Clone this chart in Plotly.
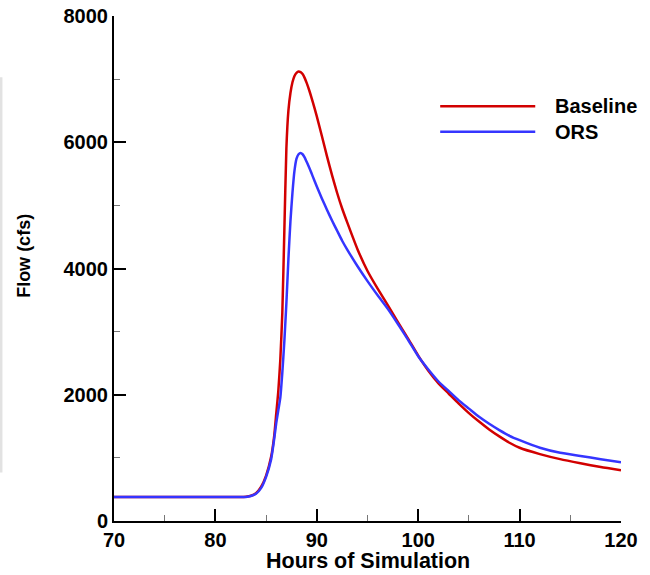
import plotly.graph_objects as go

# ---- data ----
hours_baseline = [70, 72, 75, 78, 81, 82.5, 83, 83.5, 84, 84.5, 85, 85.5, 85.8, 86.0, 86.2, 86.4, 86.6, 86.8,
                  87.0, 87.2, 87.4, 87.6, 87.8, 88.0, 88.2, 88.4, 88.6, 88.8, 89.0, 89.3, 89.6, 90.0, 90.5,
                  91.0, 91.5, 92.0, 92.5, 93.0, 94.0, 95.0, 96.0, 97.0, 98.0, 99.0, 100.0, 101.0, 102.0,
                  103.0, 104.0, 105.0, 106.0, 107.0, 108.0, 109.0, 110.0, 112.0, 114.0, 116.0, 118.0, 120.0]
flow_baseline = [380, 380, 380, 380, 380, 380, 385, 400, 440, 540, 720, 1020, 1350, 1700, 2050, 2550, 3300, 4600,
                 5900, 6500, 6780, 6950, 7050, 7100, 7120, 7110, 7080, 7020, 6940, 6800, 6640, 6410, 6100,
                 5780, 5480, 5200, 4950, 4730, 4310, 3960, 3680, 3420, 3150, 2890, 2620, 2380, 2180,
                 2020, 1860, 1710, 1575, 1450, 1340, 1240, 1160, 1060, 980, 915, 855, 805]

hours_ors = [70, 72, 75, 78, 81, 82.5, 83, 83.5, 84, 84.5, 85, 85.5, 85.8, 86.0, 86.2, 86.4, 86.6, 86.8,
             87.0, 87.2, 87.4, 87.6, 87.8, 88.0, 88.2, 88.4, 88.6, 88.8, 89.0, 89.3, 89.6, 90.0, 90.5,
             91.0, 91.5, 92.0, 92.5, 93.0, 94.0, 95.0, 96.0, 97.0, 98.0, 99.0, 100.0, 101.0, 102.0,
             103.0, 104.0, 105.0, 106.0, 107.0, 108.0, 109.0, 110.0, 112.0, 114.0, 116.0, 118.0, 120.0]
flow_ors = [380, 380, 380, 380, 380, 380, 382, 395, 430, 520, 700, 980, 1300, 1550, 1750, 1950, 2350, 2850,
            3450, 4150, 4750, 5200, 5550, 5740, 5810, 5830, 5810, 5760, 5690, 5580, 5460, 5300, 5110,
            4930, 4760, 4600, 4440, 4300, 4040, 3800, 3575, 3360, 3120, 2870, 2610, 2400, 2210,
            2060, 1910, 1780, 1650, 1540, 1440, 1350, 1280, 1160, 1080, 1030, 980, 930]

series_names = ["Baseline", "ORS"]
series_colors = ["#d20000", "#3535ff"]

x_ticks = [70, 80, 90, 100, 110, 120]
y_ticks = [0, 2000, 4000, 6000, 8000]

W, H = 650, 575
L, R, T, B = 114, 29.3, 15.7, 53.5
pw, ph = W - L - R, H - T - B

def px(x):
    return (x - L) / pw

def py(y):
    return (H - B - y) / ph

FONT = "Liberation Sans, Arial, sans-serif"

fig = go.Figure()
fig.add_trace(go.Scatter(x=hours_baseline, y=flow_baseline, mode="lines", name=series_names[0],
                         line=dict(color=series_colors[0], width=2.5, shape="spline", smoothing=0.5),
                         showlegend=False))
fig.add_trace(go.Scatter(x=hours_ors, y=flow_ors, mode="lines", name=series_names[1],
                         line=dict(color=series_colors[1], width=2.5, shape="spline", smoothing=0.5),
                         showlegend=False))

axis_common = dict(showline=True, linecolor="black", linewidth=2, showgrid=False, zeroline=False,
                   automargin=False, ticks="inside", ticklen=12, tickwidth=2, tickcolor="black",
                   ticklabeloverflow="allow",
                   tickfont=dict(family=FONT, size=20, color="black", weight="bold"))

fig.update_xaxes(range=[70, 120], tickvals=x_ticks, ticktext=[str(v) for v in x_ticks],
                 minor=dict(ticks="inside", ticklen=6, tickwidth=1, tickcolor="#777777", dtick=5, tick0=70),
                 **axis_common)
fig.update_yaxes(range=[0, 8000], tickvals=y_ticks, ticktext=[str(v) for v in y_ticks],
                 minor=dict(ticks="inside", ticklen=6, tickwidth=1, tickcolor="#777777", dtick=1000, tick0=0),
                 **axis_common)

shapes = []
annotations = []
# legend (drawn manually to match the long line samples)
leg_y = [106, 131.7]
for name, color, yy in zip(series_names, series_colors, leg_y):
    shapes.append(dict(type="line", xref="paper", yref="paper", x0=px(440), x1=px(535), y0=py(yy), y1=py(yy),
                       line=dict(color=color, width=2.5)))
    annotations.append(dict(text=name, xref="paper", yref="paper", x=px(553), y=py(yy), xanchor="left",
                            yanchor="middle", showarrow=False,
                            font=dict(family=FONT, size=20, color="black", weight="bold")))
# axis titles
annotations.append(dict(text="Hours of Simulation", xref="paper", yref="paper", x=px(367.5), y=py(562),
                        xanchor="center", yanchor="middle", showarrow=False,
                        font=dict(family=FONT, size=21.5, color="black", weight="bold")))
annotations.append(dict(text="Flow (cfs)", xref="paper", yref="paper", x=px(24), y=py(256), textangle=-90,
                        xanchor="center", yanchor="middle", showarrow=False,
                        font=dict(family=FONT, size=18, color="black", weight="bold")))
# faint grey band at the left edge of the reference image
shapes.append(dict(type="rect", xref="paper", yref="paper", x0=px(0), x1=px(2.5), y0=py(473), y1=py(77),
                   line=dict(width=0), fillcolor="#e2e2e2", layer="below"))

fig.update_layout(width=W, height=H, margin=dict(l=L, r=R, t=T, b=B, autoexpand=False),
                  paper_bgcolor="white", plot_bgcolor="white", template="none",
                  shapes=shapes, annotations=annotations, showlegend=False)

fig.write_html("out.html", config={"displayModeBar": False},
               post_script="document.body.style.margin='0';document.body.style.padding='0';")
